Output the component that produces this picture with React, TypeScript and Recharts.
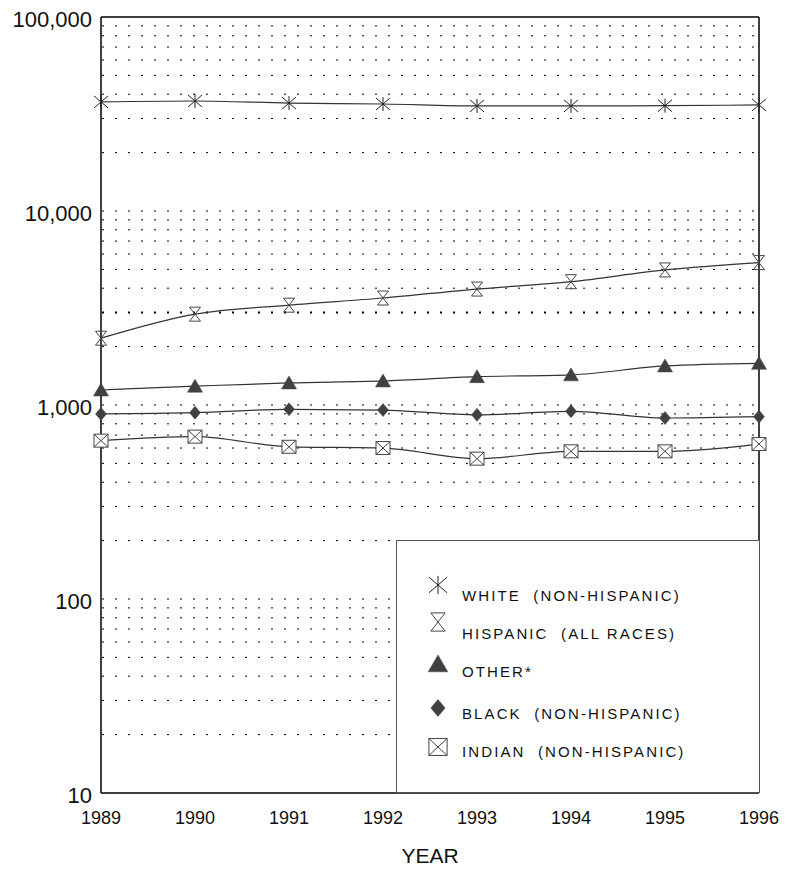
import React from 'react';
import { LineChart, Line, XAxis, YAxis, ReferenceLine, Legend } from 'recharts';

const years = [1989, 1990, 1991, 1992, 1993, 1994, 1995, 1996];
const white = [36500, 36900, 36000, 35600, 34800, 34800, 34900, 35200];
const hispanic = [2210, 2940, 3270, 3560, 3960, 4320, 4970, 5420];
const other = [1195, 1250, 1300, 1330, 1400, 1430, 1590, 1640];
const black = [900, 913, 950, 942, 890, 928, 857, 871];
const indian = [655, 687, 609, 600, 529, 577, 577, 629];

const yTicks = [10, 100, 1000, 10000, 100000];
const gridValues = [
  20, 30, 40, 50, 60, 70, 80, 90, 100,
  200, 300, 400, 500, 600, 700, 800, 900, 1000,
  2000, 3000, 4000, 5000, 6000, 7000, 8000, 9000, 10000,
  20000, 30000, 40000, 50000, 60000, 70000, 80000, 90000,
];

const seriesNames = [
  'WHITE (NON-HISPANIC)',
  'HISPANIC (ALL RACES)',
  'OTHER*',
  'BLACK (NON-HISPANIC)',
  'INDIAN (NON-HISPANIC)',
];
const seriesKeys = ['white', 'hispanic', 'other', 'black', 'indian'];
const seriesShapes = ['asterisk', 'hourglass', 'triangle', 'diamond', 'squarex'];

const data = years.map((year, i) => ({
  year,
  white: white[i],
  hispanic: hispanic[i],
  other: other[i],
  black: black[i],
  indian: indian[i],
}));

const FONT = "Arial, 'Liberation Sans', Helvetica, sans-serif";
const LINE = '#333';
const FILL = '#404040';

function Marker({ type, cx, cy, s = 1 }: { type: string; cx: number; cy: number; s?: number }) {
  switch (type) {
    case 'asterisk':
      return (
        <g stroke="#222" strokeWidth={1} fill="none">
          <line x1={cx - 7 * s} y1={cy - 6 * s} x2={cx + 7 * s} y2={cy + 6 * s} />
          <line x1={cx + 7 * s} y1={cy - 6 * s} x2={cx - 7 * s} y2={cy + 6 * s} />
          <line x1={cx} y1={cy - 7 * s} x2={cx} y2={cy + 7 * s} />
        </g>
      );
    case 'hourglass':
      return (
        <polygon
          points={`${cx - 5.5 * s},${cy - 7 * s} ${cx + 5.5 * s},${cy - 7 * s} ${cx - 5.5 * s},${cy + 7 * s} ${cx + 5.5 * s},${cy + 7 * s}`}
          fill="none"
          stroke="#444"
          strokeWidth={1}
        />
      );
    case 'triangle':
      return (
        <polygon
          points={`${cx},${cy - 7 * s} ${cx + 7.5 * s},${cy + 6 * s} ${cx - 7.5 * s},${cy + 6 * s}`}
          fill={FILL}
          stroke={FILL}
          strokeWidth={0.5}
        />
      );
    case 'diamond':
      return (
        <polygon
          points={`${cx},${cy - 6.5 * s} ${cx + 5.5 * s},${cy} ${cx},${cy + 6.5 * s} ${cx - 5.5 * s},${cy}`}
          fill={FILL}
          stroke={FILL}
          strokeWidth={0.5}
        />
      );
    case 'squarex':
    default:
      return (
        <g stroke="#444" strokeWidth={1}>
          <rect x={cx - 7 * s} y={cy - 6.5 * s} width={14 * s} height={13 * s} fill="white" />
          <line x1={cx - 7 * s} y1={cy - 6.5 * s} x2={cx + 7 * s} y2={cy + 6.5 * s} />
          <line x1={cx + 7 * s} y1={cy - 6.5 * s} x2={cx - 7 * s} y2={cy + 6.5 * s} />
        </g>
      );
  }
}

const legendMarkerY = [44, 81, 123, 167, 206];
const legendTextY = [59.5, 97.5, 135.5, 177.5, 215.5];

function LegendBox() {
  return (
    <div
      style={{
        width: 364,
        height: 253,
        boxSizing: 'border-box',
        border: '1px solid #555',
        background: 'white',
      }}
    >
      <svg width={362} height={251} style={{ display: 'block' }}>
        {seriesNames.map((name, i) => (
          <g key={name}>
            <Marker type={seriesShapes[i]} cx={41} cy={legendMarkerY[i]} s={1.3} />
            <text
              x={65}
              y={legendTextY[i]}
              fontFamily={FONT}
              fontSize={15}
              letterSpacing={2.1}
              fill="#111"
              style={{ whiteSpace: 'pre' }}
            >
              {name.replace(' ', '  ')}
            </text>
          </g>
        ))}
      </svg>
    </div>
  );
}

function formatNum(v: number) {
  return v.toLocaleString('en-US');
}

export default function App() {
  return (
    <div style={{ position: 'absolute', left: 0, top: 0, background: 'white' }}>
      <LineChart
        width={789}
        height={877}
        data={data}
        margin={{ top: 17, right: 30, bottom: 0, left: 0 }}
      >
        <XAxis
          dataKey="year"
          type="number"
          domain={[1989, 1996]}
          ticks={years}
          height={84}
          tickLine={false}
          tickSize={0}
          tickMargin={0}
          axisLine={{ stroke: '#000', strokeWidth: 1.5 }}
          tick={(p: any) => (
            <text
              x={p.x}
              y={p.y + 31}
              textAnchor="middle"
              fontFamily={FONT}
              fontSize={18}
              fill="#111"
            >
              {p.payload.value}
            </text>
          )}
          label={(p: any) => {
            const vb = p.viewBox || {};
            return (
              <text
                x={vb.x + vb.width / 2}
                y={vb.y + 70}
                textAnchor="middle"
                fontFamily={FONT}
                fontSize={21}
                fill="#111"
              >
                YEAR
              </text>
            );
          }}
        />
        <YAxis
          scale="log"
          type="number"
          domain={[10, 100000]}
          ticks={yTicks}
          allowDataOverflow
          width={101}
          tickLine={false}
          tickSize={0}
          tickMargin={9}
          axisLine={{ stroke: '#000', strokeWidth: 1.5 }}
          tick={(p: any) => (
            <text
              x={p.x}
              y={p.y + 9.5}
              textAnchor="end"
              fontFamily={FONT}
              fontSize={22}
              fill="#111"
            >
              {formatNum(p.payload.value)}
            </text>
          )}
        />
        {gridValues.map((v) => (
          <ReferenceLine
            key={v}
            y={v}
            stroke="#000"
            strokeWidth={v === 3000 ? 2 : 1}
            strokeDasharray="2 11"
            strokeDashoffset={-1}
          />
        ))}
        <ReferenceLine y={100000} stroke="#000" strokeWidth={1.5} />
        <ReferenceLine x={1996} stroke="#000" strokeWidth={1.5} />
        {seriesKeys.map((k, i) => (
          <Line
            key={k}
            dataKey={k}
            name={seriesNames[i]}
            type="monotone"
            stroke={LINE}
            strokeWidth={1.2}
            isAnimationActive={false}
            dot={(p: any) => (
              <Marker key={`${k}-${p.index}`} type={seriesShapes[i]} cx={p.cx} cy={p.cy} />
            )}
            activeDot={false}
          />
        ))}
        <Legend
          layout="vertical"
          align="center"
          verticalAlign="middle"
          content={() => <LegendBox />}
          wrapperStyle={{ left: 396, top: 540, width: 364, height: 253 }}
        />
      </LineChart>
    </div>
  );
}
